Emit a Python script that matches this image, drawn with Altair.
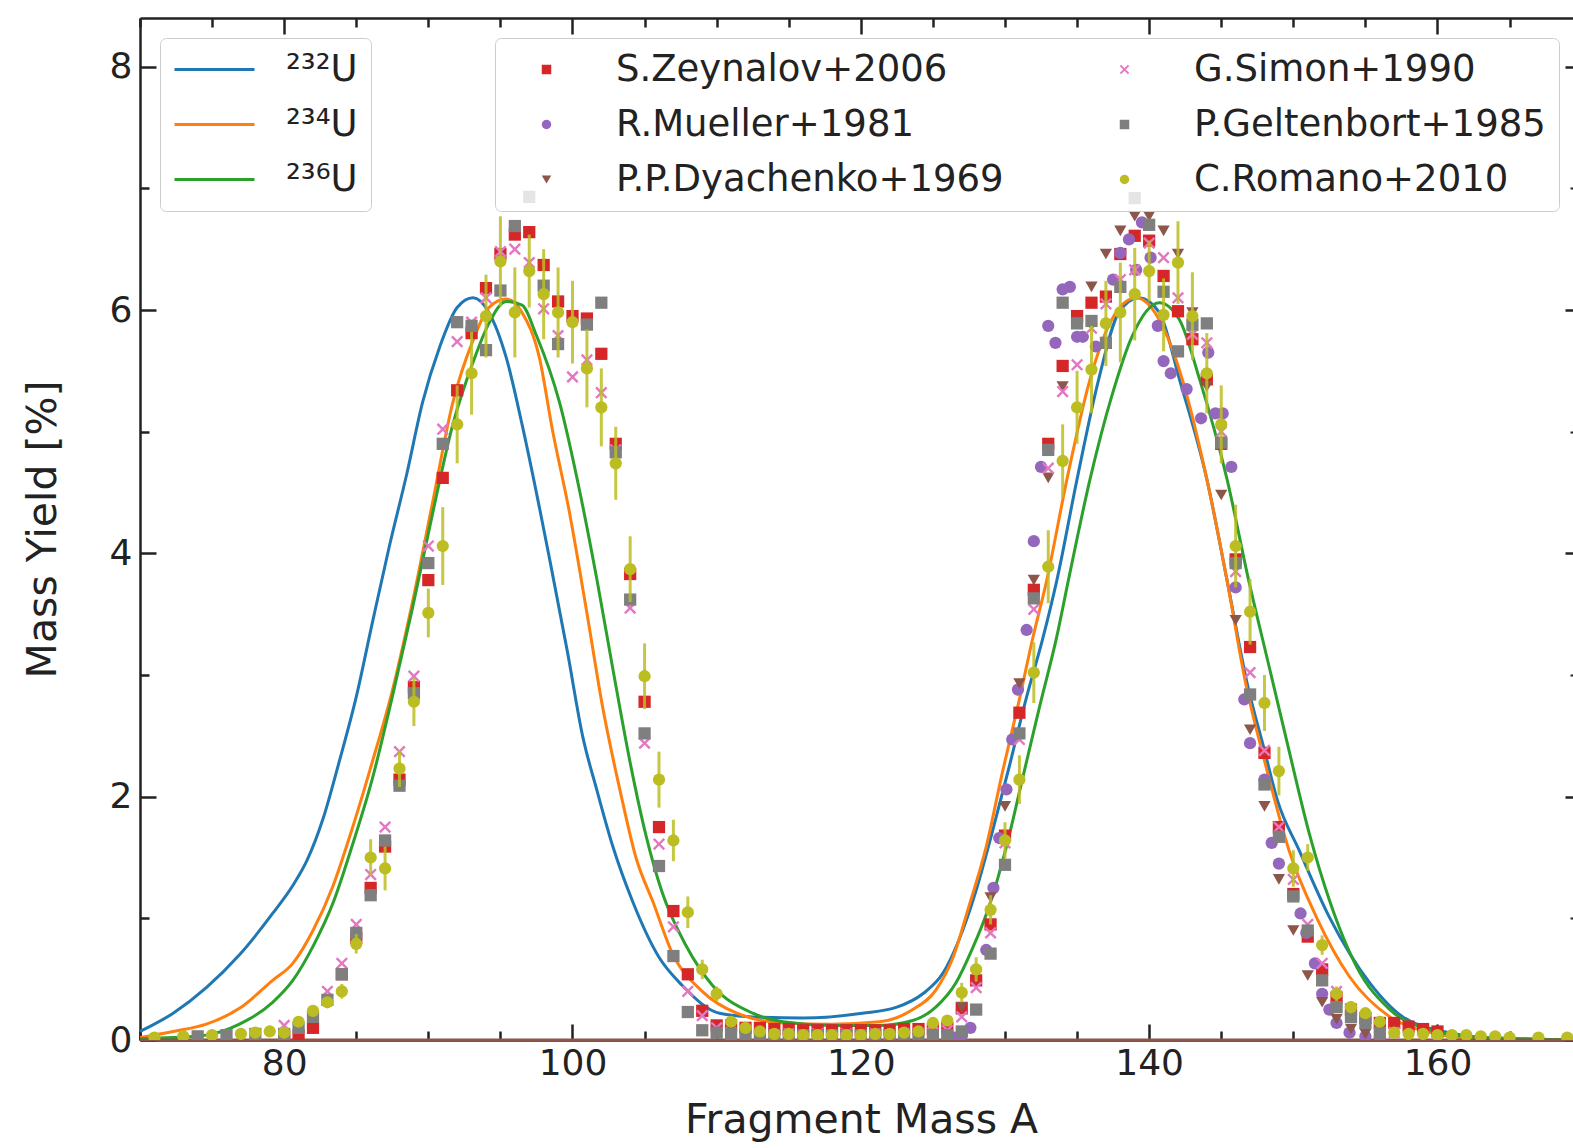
import altair as alt
import pandas as pd

FONT = "DejaVu Sans"
INK = "#222222"

# ---------------- model curves (A, yield %) ----------------
A232 = [70.0, 72.3, 74.6, 76.9, 79.2, 80.6, 81.6, 82.7, 83.8, 85.0, 86.1, 87.3, 88.5, 89.6, 90.8,
        92.0, 93.1, 94.2, 95.4, 96.5, 97.7, 98.4, 99.65, 100.7, 101.7, 102.8, 104.2, 106.0, 107.6,
        110.2, 112.5, 116.0, 120.1, 122.5, 124.3, 125.7, 126.8, 128.0, 129.1, 130.3, 131.5, 132.6,
        133.6, 135.0, 136.5, 137.9, 139.3, 140.7, 142.1, 144.0, 145.4, 146.8, 148.0, 148.9, 150.4,
        152.5, 155.3, 157.6, 160.8, 163.1, 166.0, 169.4]
Y232 = [0.07, 0.22, 0.43, 0.70, 1.04, 1.27, 1.48, 1.82, 2.28, 2.82, 3.42, 4.06, 4.65, 5.24, 5.70,
        6.02, 6.10, 5.98, 5.61, 5.06, 4.38, 3.96, 3.19, 2.50, 2.05, 1.59, 1.13, 0.68, 0.45,
        0.22, 0.19, 0.18, 0.22, 0.27, 0.38, 0.55, 0.82, 1.23, 1.70, 2.25, 2.82, 3.29,
        3.78, 4.61, 5.43, 5.98, 6.10, 5.98, 5.43, 4.61, 3.78, 2.93, 2.38, 1.97, 1.56,
        1.01, 0.47, 0.19, 0.06, 0.02, 0.01, 0.0]

A234 = [70.0, 72.3, 74.6, 76.9, 79.2, 80.6, 82.0, 83.4, 84.7, 86.1, 87.5, 88.9, 90.3, 91.7, 93.1,
        94.2, 95.4, 96.5, 97.7, 98.6, 99.8, 101.0, 102.1, 103.3, 104.4, 105.6, 106.9, 109.0, 111.4,
        114.6, 118.0, 121.3, 123.6, 125.2, 126.4, 127.5, 128.7, 129.8, 131.0, 131.9, 132.9, 134.3,
        135.9, 137.4, 139.1, 140.7, 142.3, 144.0, 145.4, 146.7, 148.1, 149.7, 151.6, 153.9, 156.7,
        159.6, 163.0, 169.4]
Y234 = [0.02, 0.07, 0.13, 0.26, 0.49, 0.63, 0.90, 1.27, 1.73, 2.28, 2.87, 3.60, 4.42, 5.24, 5.75,
        6.02, 6.09, 5.98, 5.61, 5.02, 4.33, 3.51, 2.73, 2.05, 1.50, 1.13, 0.72, 0.40, 0.22,
        0.14, 0.13, 0.15, 0.25, 0.41, 0.68, 1.10, 1.59, 2.19, 2.80, 3.29, 3.78, 4.61,
        5.43, 5.92, 6.10, 5.92, 5.43, 4.61, 3.78, 2.93, 2.25, 1.56, 1.01, 0.52, 0.19,
        0.06, 0.01, 0.0]

A236 = [70.0, 72.3, 74.6, 76.9, 79.2, 80.6, 82.0, 83.4, 84.7, 86.1, 87.5, 88.9, 90.3, 91.7, 93.1,
        94.2, 95.4, 96.5, 97.5, 99.1, 100.5, 101.7, 102.8, 104.0, 105.1, 106.2, 107.9, 109.7, 112.5,
        114.6, 118.0, 121.3, 123.6, 125.2, 126.6, 127.7, 128.9, 130.1, 131.2, 132.4, 133.6, 134.4,
        135.9, 137.4, 138.8, 140.7, 142.1, 143.5, 145.4, 146.9, 148.3, 149.7, 151.1, 152.5, 154.4,
        156.7, 159.6, 163.1, 169.4]
Y236 = [0.01, 0.02, 0.04, 0.13, 0.31, 0.49, 0.77, 1.13, 1.59, 2.14, 2.82, 3.55, 4.33, 5.06, 5.57,
        5.89, 6.07, 6.04, 5.79, 5.24, 4.51, 3.78, 3.05, 2.28, 1.68, 1.22, 0.77, 0.45, 0.22,
        0.15, 0.12, 0.12, 0.16, 0.27, 0.47, 0.74, 1.10, 1.59, 2.14, 2.74, 3.32, 3.78,
        4.61, 5.29, 5.78, 6.06, 5.92, 5.43, 4.61, 3.78, 3.08, 2.38, 1.70, 1.15, 0.60,
        0.25, 0.08, 0.02, 0.0]

NUCLEI = ["²³²U", "²³⁴U", "²³⁶U"]
NUCLEI_COLORS = ["#1f77b4", "#ff7f0e", "#2ca02c"]

# ---------------- experimental data (A, yield %) ----------------
ZEYNALOV = [(80, 0.03), (81, 0.04), (82, 0.10), (84, 0.54), (85, 0.84), (86, 1.25), (87, 1.59),
            (88, 2.14), (89, 2.90), (90, 3.78), (91, 4.62), (92, 5.34), (93, 5.81), (94, 6.18),
            (95, 6.46), (96, 6.62), (97, 6.64), (98, 6.37), (99, 6.07), (100, 5.95), (101, 5.93),
            (102, 5.64), (103, 4.90), (104, 3.83), (105, 2.78), (106, 1.75), (107, 1.06), (108, 0.54),
            (109, 0.24), (110, 0.12), (111, 0.12), (112, 0.10), (113, 0.10), (114, 0.09), (115, 0.09),
            (116, 0.08), (117, 0.08), (118, 0.08), (119, 0.08), (120, 0.08), (121, 0.08), (122, 0.08),
            (123, 0.09), (124, 0.09), (125, 0.09), (126, 0.10), (127, 0.26), (128, 0.49), (129, 0.95),
            (130, 1.68), (131, 2.69), (132, 3.70), (133, 4.90), (134, 5.54), (135, 5.95), (136, 6.06),
            (137, 6.11), (138, 6.46), (139, 6.61), (140, 6.57), (141, 6.28), (142, 5.99), (143, 5.76),
            (144, 5.43), (145, 4.90), (146, 3.95), (147, 3.23), (148, 2.36), (149, 1.75), (150, 1.20),
            (151, 0.85), (152, 0.58), (153, 0.35), (154, 0.25), (155, 0.18), (156, 0.14), (157, 0.14),
            (158, 0.11), (159, 0.09), (160, 0.07)]

MUELLER = [(126.5, 0.02), (127.0, 0.04), (127.6, 0.10), (128.7, 0.74), (129.2, 1.25), (129.6, 1.66),
           (130.1, 2.06), (130.5, 2.47), (130.9, 2.88), (131.5, 3.37), (132.0, 4.10), (132.5, 4.71),
           (133.0, 5.87), (133.5, 5.73), (134.0, 6.17), (134.5, 6.19), (135.0, 5.78), (135.4, 5.78),
           (136.3, 5.70), (137.5, 6.25), (138.0, 6.47), (138.6, 6.58), (139.1, 6.33), (139.5, 6.72),
           (140.1, 6.43), (140.6, 5.87), (141.0, 5.58), (141.5, 5.48), (142.6, 5.35), (143.6, 5.11),
           (144.1, 5.65), (144.6, 5.15), (145.1, 5.15), (145.7, 4.71), (146.0, 3.72), (146.6, 2.80),
           (147.0, 2.44), (148.0, 2.14), (148.5, 1.62), (149.0, 1.45), (150.5, 1.04), (150.9, 0.88),
           (151.5, 0.63), (152.0, 0.38), (152.5, 0.25), (153.0, 0.14), (153.9, 0.06), (155.0, 0.03),
           (156.0, 0.02)]

DYACHENKO = [(127, 0.27), (128, 0.55), (129, 1.17), (130, 1.92), (131, 2.93), (132, 3.78), (133, 4.62),
             (134, 5.37), (135, 5.90), (136, 6.19), (137, 6.46), (138, 6.65), (139, 6.77), (140, 6.77),
             (141, 6.65), (142, 6.46), (143, 5.98), (144, 5.37), (145, 4.48), (146, 3.45), (147, 2.55),
             (148, 1.92), (149, 1.32), (150, 0.90), (151, 0.53), (152, 0.31), (153, 0.17), (154, 0.09),
             (155, 0.05)]

SIMON = [(80, 0.12), (83, 0.40), (84, 0.63), (85, 0.95), (86, 1.36), (87, 1.75), (88, 2.37), (89, 2.99),
         (90, 4.06), (91, 5.02), (92, 5.74), (93, 5.90), (94, 6.10), (95, 6.48), (96, 6.50), (97, 6.39),
         (98, 6.01), (99, 5.79), (100, 5.45), (101, 5.59), (102, 5.32), (103, 4.85), (104, 3.55),
         (105, 2.44), (106, 1.61), (107, 0.93), (108, 0.40), (109, 0.20), (110, 0.10), (111, 0.06),
         (113, 0.05), (115, 0.05), (117, 0.05), (119, 0.05), (121, 0.05), (123, 0.05), (125, 0.06),
         (126, 0.08), (127, 0.19), (128, 0.43), (129, 0.88), (130, 1.62), (131, 2.47), (132, 3.54),
         (133, 4.70), (134, 5.33), (135, 5.55), (136, 5.85), (137, 6.05), (138, 6.25), (139, 6.33),
         (140, 6.55), (141, 6.43), (142, 6.10), (143, 5.80), (144, 5.73), (145, 5.00), (146, 3.85),
         (147, 3.02), (148, 2.38), (149, 1.75), (150, 1.32), (151, 0.95), (152, 0.63), (153, 0.40),
         (154, 0.25), (155, 0.15), (156, 0.10), (157, 0.06)]

GELTENBORT = [(74, 0.03), (76, 0.04), (78, 0.05), (80, 0.05), (81, 0.10), (82, 0.19), (83, 0.33),
              (84, 0.54), (85, 0.88), (86, 1.19), (87, 1.64), (88, 2.09), (89, 2.85), (90, 3.92),
              (91, 4.90), (92, 5.90), (93, 5.87), (94, 5.67), (95, 6.16), (96, 6.69), (97, 6.93),
              (98, 6.20), (99, 5.72), (101, 5.88), (102, 6.06), (103, 4.83), (104, 3.62), (105, 2.52),
              (106, 1.43), (107, 0.69), (108, 0.23), (109, 0.08), (110, 0.06), (111, 0.05), (112, 0.04),
              (113, 0.04), (114, 0.04), (115, 0.04), (116, 0.04), (117, 0.04), (118, 0.04), (119, 0.04),
              (120, 0.04), (121, 0.04), (122, 0.04), (123, 0.04), (124, 0.04), (125, 0.04), (126, 0.04),
              (127, 0.07), (128, 0.25), (129, 0.71), (130, 1.44), (131, 2.52), (132, 3.63), (133, 4.85),
              (134, 6.06), (135, 5.89), (136, 5.91), (137, 5.73), (138, 6.19), (139, 6.92), (140, 6.70),
              (141, 6.15), (142, 5.66), (143, 5.88), (144, 5.89), (145, 4.91), (146, 3.92), (147, 2.84),
              (148, 2.10), (149, 1.67), (150, 1.18), (151, 0.90), (152, 0.49), (153, 0.27), (154, 0.19),
              (155, 0.14), (156, 0.06)]

# (A, yield %, error)
ROMANO = [(71, 0.02, 0.0), (73, 0.03, 0.0), (75, 0.04, 0.0), (77, 0.05, 0.0), (78, 0.06, 0.0),
          (79, 0.07, 0.0), (80, 0.06, 0.02), (81, 0.15, 0.03), (82, 0.24, 0.03), (83, 0.31, 0.04),
          (84, 0.40, 0.06), (85, 0.79, 0.08), (86, 1.50, 0.15), (87, 1.41, 0.18), (88, 2.23, 0.15),
          (89, 2.78, 0.20), (90, 3.51, 0.20), (91, 4.06, 0.32), (92, 5.06, 0.32), (93, 5.48, 0.34),
          (94, 5.95, 0.34), (95, 6.40, 0.37), (96, 5.98, 0.37), (97, 6.32, 0.30), (98, 6.13, 0.37),
          (99, 5.98, 0.37), (100, 5.90, 0.34), (101, 5.52, 0.32), (102, 5.20, 0.32), (103, 4.74, 0.30),
          (104, 3.87, 0.27), (105, 2.99, 0.27), (106, 2.14, 0.23), (107, 1.64, 0.17), (108, 1.05, 0.13),
          (109, 0.58, 0.08), (110, 0.38, 0.06), (111, 0.15, 0.03), (112, 0.10, 0.02), (113, 0.07, 0.02),
          (114, 0.05, 0.01), (115, 0.05, 0.01), (116, 0.04, 0.01), (117, 0.04, 0.01), (118, 0.04, 0.01),
          (119, 0.04, 0.01), (120, 0.04, 0.01), (121, 0.05, 0.01), (122, 0.05, 0.01), (123, 0.06, 0.01),
          (124, 0.07, 0.02), (125, 0.14, 0.03), (126, 0.16, 0.03), (127, 0.39, 0.08), (128, 0.58, 0.10),
          (129, 1.07, 0.12), (130, 1.64, 0.15), (131, 2.14, 0.20), (132, 3.02, 0.25), (133, 3.89, 0.30),
          (134, 4.76, 0.30), (135, 5.20, 0.30), (136, 5.51, 0.36), (137, 5.89, 0.35), (138, 5.98, 0.41),
          (139, 6.13, 0.38), (140, 6.32, 0.25), (141, 5.96, 0.30), (142, 6.39, 0.34), (143, 5.95, 0.36),
          (144, 5.48, 0.33), (145, 5.06, 0.32), (146, 4.06, 0.34), (147, 3.52, 0.27), (148, 2.77, 0.23),
          (149, 2.21, 0.20), (150, 1.41, 0.15), (151, 1.50, 0.11), (152, 0.78, 0.08), (153, 0.38, 0.06),
          (154, 0.27, 0.05), (155, 0.22, 0.04), (156, 0.15, 0.03), (157, 0.06, 0.02), (158, 0.05, 0.01),
          (159, 0.05, 0.01), (160, 0.04, 0.01), (161, 0.04, 0.01), (162, 0.04, 0.01), (163, 0.03, 0.01),
          (164, 0.03, 0.01), (165, 0.02, 0.01), (167, 0.02, 0.01), (169, 0.02, 0.01)]

NAMES = ["S.Zeynalov+2006", "R.Mueller+1981", "P.P.Dyachenko+1969",
         "G.Simon+1990", "P.Geltenbort+1985", "C.Romano+2010"]
X_SHAPE = "M-1,-0.72L-0.72,-1L0,-0.28L0.72,-1L1,-0.72L0.28,0L1,0.72L0.72,1L0,0.28L-0.72,1L-1,0.72L-0.28,0Z"
NAME_COLORS = ["#d62728", "#9467bd", "#8c564b", "#e377c2", "#7f7f7f", "#bcbd22"]
NAME_SHAPES = ["square", "circle", "triangle-down", X_SHAPE, "square", "circle"]

XMAJ = [80, 100, 120, 140, 160]
XMIN = [70, 75, 85, 90, 95, 105, 110, 115, 125, 130, 135, 145, 150, 155, 165]
YMAJ = [0, 2, 4, 6, 8]
YMIN = [1, 3, 5, 7]

# ---------------- tables ----------------
curves = pd.concat([
    pd.DataFrame({"A": A232, "Y": Y232, "nucleus": NUCLEI[0]}),
    pd.DataFrame({"A": A234, "Y": Y234, "nucleus": NUCLEI[1]}),
    pd.DataFrame({"A": A236, "Y": Y236, "nucleus": NUCLEI[2]}),
], ignore_index=True)

sets = [ZEYNALOV, MUELLER, DYACHENKO, SIMON, GELTENBORT, [(a, y) for a, y, e in ROMANO]]
points = pd.concat([
    pd.DataFrame({"A": [p[0] for p in s], "Y": [p[1] for p in s], "dataset": n})
    for s, n in zip(sets, NAMES)
], ignore_index=True)

errs = pd.DataFrame({"A": [r[0] for r in ROMANO],
                     "lo": [r[1] - r[2] for r in ROMANO],
                     "hi": [r[1] + r[2] for r in ROMANO]})
baseline = pd.DataFrame({"Y": [0.0]})

# ---------------- chart ----------------
W, H = 1433, 1022
MAJ, MIN = 16, 9
xs = alt.Scale(domain=[70, 169.4], nice=False, zero=False)
ys = alt.Scale(domain=[0, 8.4], nice=False, zero=False)


def ax(orient, values, size, **kw):
    opts = dict(orient=orient, values=values, tickSize=size, offset=-size, domain=False,
                grid=False, tickColor=INK, tickWidth=2.5 if size >= 8 else 2.0,
                labels=False, title=None)
    opts.update(kw)
    return alt.Axis(**opts)


def frame(orient):
    return alt.Axis(orient=orient, domain=True, domainColor=INK, domainWidth=2.5, ticks=False,
                    labels=False, grid=False, title=None, zindex=0)


label_kw = dict(labels=True, labelFont=FONT, labelFontSize=36, labelColor=INK,
                titleFont=FONT, titleFontSize=41, titleFontWeight="normal", titleColor=INK)

box_kw = dict(orient="none", title=None, padding=13, fillColor="rgba(255,255,255,0.8)",
              strokeColor="#cccccc", cornerRadius=6, labelFont=FONT, labelFontSize=37,
              labelColor=INK, rowPadding=17, clipHeight=37, labelLimit=600)

leg_lines = alt.Legend(legendX=20, legendY=20, symbolType="stroke", symbolSize=6400,
                       symbolStrokeWidth=3, labelOffset=30, **box_kw)
leg_pts = alt.Legend(legendX=355, legendY=20, columns=2, symbolSize=90, symbolOffset=20,
                     labelOffset=51, columnPadding=82, **box_kw)

lines = alt.Chart(curves).mark_line(strokeWidth=3, interpolate="monotone", clip=True).encode(
    x=alt.X("A:Q", scale=xs, axis=ax("bottom", XMAJ, MAJ, title="Fragment Mass A",
                                      labelPadding=6, titlePadding=19, titleX=721, **label_kw)),
    y=alt.Y("Y:Q", scale=ys, axis=ax("left", YMAJ, MAJ, title="Mass Yield [%]",
                                      labelPadding=8, titlePadding=45, **label_kw)),
    stroke=alt.Stroke("nucleus:N", scale=alt.Scale(domain=NUCLEI, range=NUCLEI_COLORS),
                      legend=leg_lines),
)

base = alt.Chart(baseline).mark_rule(color="#8c564b", strokeWidth=3).encode(
    y=alt.Y("Y:Q", scale=ys, axis=None)
)

pts = alt.Chart(points).mark_point(filled=True, opacity=1, size=150, clip=True).encode(
    x=alt.X("A:Q", scale=xs, axis=ax("top", XMAJ, MAJ)),
    y=alt.Y("Y:Q", scale=ys, axis=ax("right", YMAJ, 8)),
    color=alt.Color("dataset:N", scale=alt.Scale(domain=NAMES, range=NAME_COLORS), legend=leg_pts),
    shape=alt.Shape("dataset:N", scale=alt.Scale(domain=NAMES, range=NAME_SHAPES), legend=leg_pts),
)

bars = alt.Chart(errs).mark_rule(color="#bcbd22", strokeWidth=3, opacity=0.85, clip=True).encode(
    x=alt.X("A:Q", scale=xs, axis=ax("bottom", XMIN, MIN)),
    y=alt.Y("lo:Q", scale=ys, axis=ax("left", YMIN, MIN)),
    y2="hi:Q",
)

ghost = alt.Chart(curves).mark_point(opacity=0).encode(
    x=alt.X("A:Q", scale=xs, axis=ax("top", XMIN, MIN)),
    y=alt.Y("Y:Q", scale=ys, axis=ax("right", YMIN, 3)),
)

frame_bl = alt.Chart(curves).mark_point(opacity=0).encode(
    x=alt.X("A:Q", scale=xs, axis=frame("bottom")),
    y=alt.Y("Y:Q", scale=ys, axis=frame("left")),
)

frame_t = alt.Chart(curves).mark_point(opacity=0).encode(
    x=alt.X("A:Q", scale=xs, axis=frame("top")),
    y=alt.Y("Y:Q", scale=ys, axis=None),
)

chart = alt.layer(frame_bl, frame_t, lines, base, pts, bars, ghost).resolve_axis(
    x="independent", y="independent"
).properties(
    width=W, height=H,
    padding={"left": 140, "top": 18, "right": 0, "bottom": 108},
    autosize=alt.AutoSizeParams(type="none"),
    background="white",
).configure_view(strokeWidth=0)

chart.save("out.html", embed_options={"renderer": "svg", "actions": False})
